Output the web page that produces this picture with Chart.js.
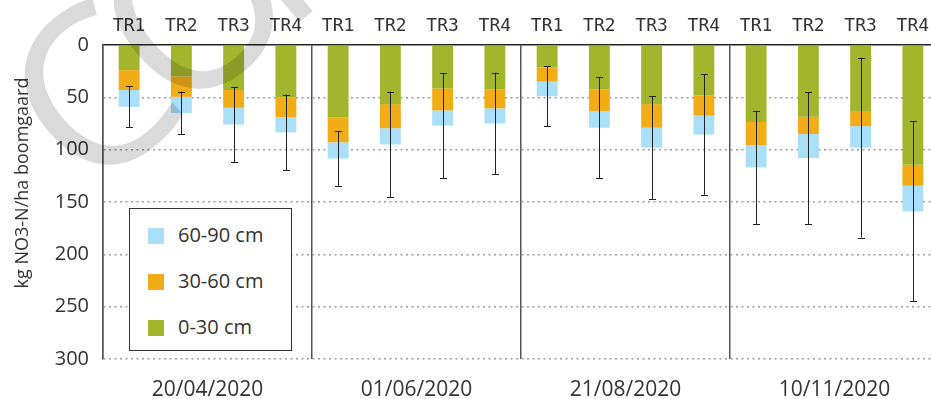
<!DOCTYPE html>
<html>
<head>
<meta charset="utf-8">
<script src="https://cdn.jsdelivr.net/npm/chart.js@4"></script>
<style>
  body { margin: 0; overflow: hidden; background: #fff; }
  #wrap { position: relative; width: 945px; height: 399px; }
  #legend {
    position: absolute; left: 129px; top: 208px; width: 161px; height: 141px;
    border: 1.5px solid #333; background: #fff;
    font-family: "Open Sans", sans-serif; font-size: 20px; color: #333;
  }
  .item { position: absolute; left: 18px; height: 16px; }
  .item span.box { position: absolute; left: 0; top: 0; width: 16px; height: 16px; }
  .item span.txt { position: absolute; left: 30px; top: -7px; line-height: 28px; white-space: nowrap; }
</style>
</head>
<body>
<div id="wrap">
  <canvas id="myChart" width="945" height="399"></canvas>
  <div id="legend"></div>
</div>
<script>
  "use strict";

  // groups of treatments
  const treatments = ['TR1', 'TR2', 'TR3', 'TR4'];
  const dates = ['20/04/2020', '01/06/2020', '21/08/2020', '10/11/2020'];

  // kg NO3-N/ha per soil layer
  const layer_0_30 = [24, 30, 43, 50, 69, 56.5, 41.5, 42.5, 21.5, 42.5, 56.5, 48, 73.5, 68.5, 63, 114.5];
  const layer_30_60 = [19, 19.5, 17, 19, 24, 23, 21, 18, 13.5, 20.5, 22.5, 19.5, 22, 16.5, 14.5, 20];
  const layer_60_90 = [16, 15.5, 16, 14.5, 15.5, 15.5, 14.5, 14.5, 14, 16, 19, 18, 21.5, 23, 20.5, 24.5];
  // error on the total (0-90 cm)
  const errTotal = [19.5, 20.5, 36, 36, 26, 50.5, 50, 48.5, 28.5, 48, 49, 57.5, 54, 63, 86, 86];

  const yTicks = [0, 50, 100, 150, 200, 250, 300];
  const seriesNames = ['0-30 cm', '30-60 cm', '60-90 cm'];
  const seriesColors = ['#a2b52d', '#f2ad16', '#aadff9'];

  var labels = [];
  dates.forEach(function () {
    treatments.forEach(function (t) { labels.push(t); });
  });

  // error bars on top of the stack
  const errorBars = {
    id: 'errorBars',
    afterDatasetsDraw: function (chart) {
      const ctx = chart.ctx;
      const y = chart.scales.y;
      const bars = chart.getDatasetMeta(0).data;
      ctx.save();
      ctx.strokeStyle = '#222';
      ctx.lineWidth = 1;
      bars.forEach(function (bar, i) {
        var total = layer_0_30[i] + layer_30_60[i] + layer_60_90[i];
        var y1 = y.getPixelForValue(total - errTotal[i]);
        var y2 = y.getPixelForValue(total + errTotal[i]);
        var x = Math.round(bar.x) + 0.5;
        ctx.beginPath();
        ctx.moveTo(x, y1); ctx.lineTo(x, y2);
        ctx.moveTo(x - 3.5, Math.round(y1) + 0.5); ctx.lineTo(x + 3.5, Math.round(y1) + 0.5);
        ctx.moveTo(x - 3.5, Math.round(y2) + 0.5); ctx.lineTo(x + 3.5, Math.round(y2) + 0.5);
        ctx.stroke();
      });
      ctx.restore();
    }
  };

  // y title (a bit above the middle, as in the original) and watermark
  const extras = {
    id: 'extras',
    afterDraw: function (chart) {
      const ctx = chart.ctx;
      ctx.save();
      ctx.translate(23, 183);
      ctx.rotate(-Math.PI / 2);
      ctx.font = '18px "Open Sans"';
      ctx.fillStyle = '#333';
      ctx.textAlign = 'center';
      ctx.textBaseline = 'middle';
      ctx.fillText('kg NO3-N/ha boomgaard', 0, 0);
      ctx.restore();

      ctx.save();
      ctx.globalCompositeOperation = 'multiply';
      ctx.fillStyle = '#dadada';
      ctx.font = '222px "Open Sans"';
      ctx.textAlign = 'center';
      ctx.textBaseline = 'middle';
      ctx.translate(101, 106);
      ctx.rotate(-40 * Math.PI / 180);
      'CONCEPT'.split('').forEach(function (ch, i) {
        ctx.fillText(ch, i * 134, 0);
      });
      ctx.restore();
    }
  };

  const data_no3 = {
    labels: labels,
    datasets: [
      { label: seriesNames[0], data: layer_0_30, backgroundColor: seriesColors[0] },
      { label: seriesNames[1], data: layer_30_60, backgroundColor: seriesColors[1] },
      { label: seriesNames[2], data: layer_60_90, backgroundColor: seriesColors[2] }
    ]
  };

  const config_no3 = {
    type: 'bar',
    data: data_no3,
    options: {
      responsive: false,
      animation: false,
      layout: { padding: { left: 0, right: 6, top: 0, bottom: 0 } },
      datasets: {
        bar: { categoryPercentage: 1, barPercentage: 0.4 }
      },
      plugins: {
        legend: { display: false },
        tooltip: { enabled: false },
        title: { display: false }
      },
      scales: {
        x: {
          position: 'top',
          stacked: true,
          offset: true,
          afterFit: function (scale) { scale.height = 45; },
          grid: {
            offset: true,
            drawTicks: false,
            lineWidth: 1.5,
            color: function (c) { return c.index % 4 === 0 ? '#555' : 'rgba(0,0,0,0)'; }
          },
          border: { display: true, color: '#222', width: 1.5 },
          ticks: {
            padding: 8,
            color: '#333',
            maxRotation: 0,
            autoSkip: false,
            font: { family: 'DejaVu Sans Mono', size: 18 }
          }
        },
        x2: {
          type: 'linear',
          position: 'bottom',
          offset: false,
          min: -0.5,
          max: labels.length - 0.5,
          afterFit: function (scale) { scale.height = 40; },
          afterBuildTicks: function (scale) {
            scale.ticks = dates.map(function (d, i) { return { value: i * 4 + 1.5 }; });
          },
          grid: { display: false, drawTicks: false },
          border: { display: false },
          ticks: {
            padding: 18,
            color: '#333',
            maxRotation: 0,
            autoSkip: false,
            font: { family: 'Open Sans', size: 21 },
            callback: function (value) { return dates[Math.round((value - 1.5) / 4)]; }
          }
        },
        y: {
          stacked: true,
          reverse: true,
          min: yTicks[0],
          max: yTicks[yTicks.length - 1],
          afterFit: function (scale) { scale.width = 103; },
          afterBuildTicks: function (scale) {
            scale.ticks = yTicks.map(function (v) { return { value: v }; });
          },
          grid: {
            drawTicks: false,
            lineWidth: 1.5,
            color: function (c) { return c.tick && c.tick.value === 0 ? 'rgba(0,0,0,0)' : '#9a9a9a'; }
          },
          border: { display: true, color: '#555', width: 1.5, dash: [2, 3.5] },
          ticks: {
            padding: 14,
            color: '#333',
            font: { family: 'Open Sans', size: 20 }
          }
        }
      }
    },
    plugins: [errorBars, extras]
  };

  const ctx_no3 = document.getElementById('myChart');
  const myChart = new Chart(ctx_no3, config_no3);

  // legend box: deepest layer on top
  var legend = document.getElementById('legend');
  var rowTop = [19, 65, 111];
  [2, 1, 0].forEach(function (k, r) {
    var item = document.createElement('div');
    item.className = 'item';
    item.style.top = rowTop[r] + 'px';
    item.innerHTML = '<span class="box" style="background:' + seriesColors[k] + '"></span>' +
      '<span class="txt">' + seriesNames[k] + '</span>';
    legend.appendChild(item);
  });
</script>
</body>
</html>
